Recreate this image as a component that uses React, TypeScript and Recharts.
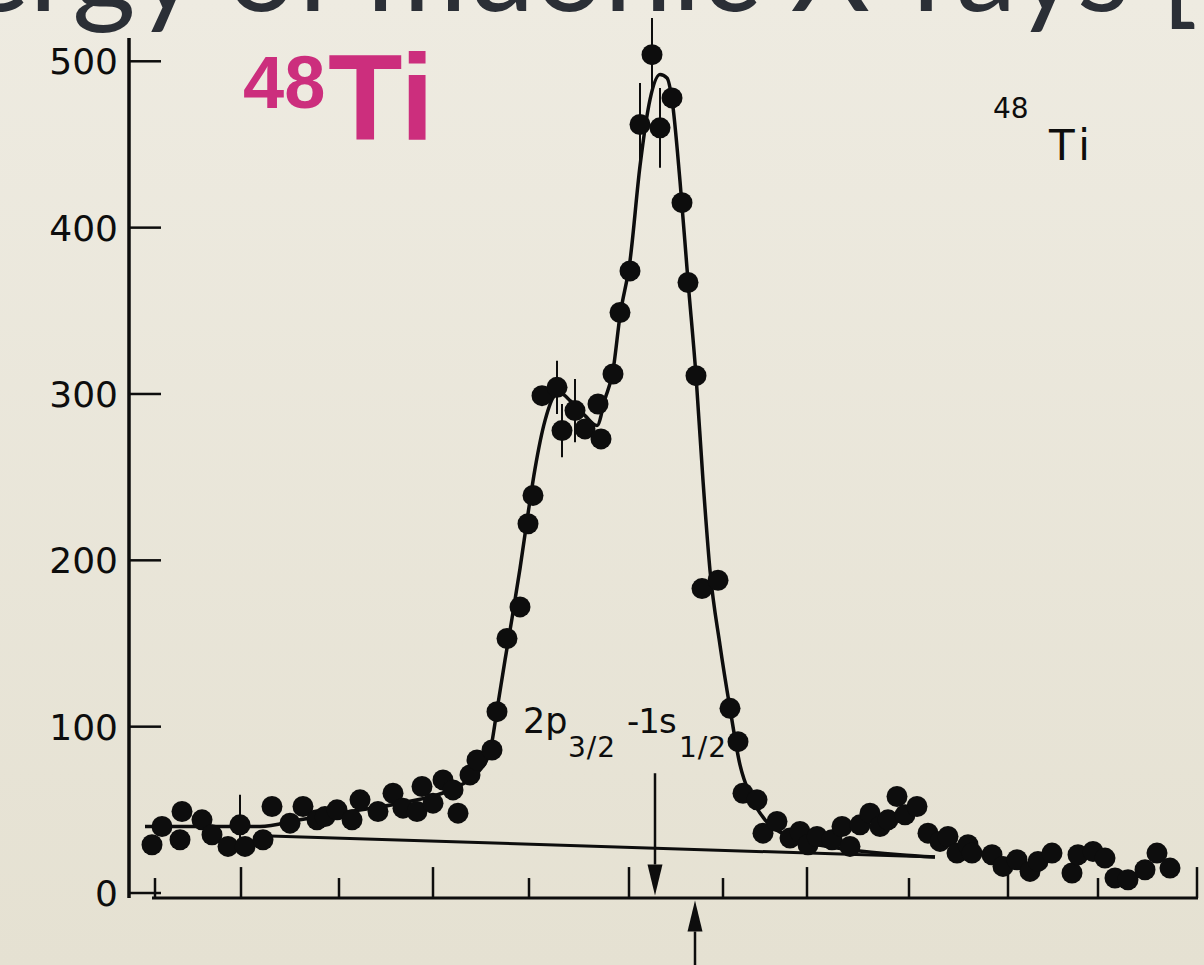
import React from "react";
import { ComposedChart, Line, Scatter, XAxis, YAxis, ErrorBar, ReferenceLine } from "recharts";

// measured spectrum (channel, counts)
const channels = [
  0, 1, 2.8, 3, 5, 6, 7.6, 8.8, 9.3, 11.1, 12, 13.8, 15.1, 16.5, 17.3, 18.5, 20, 20.8, 22.6, 24.1,
  25.1, 26.5, 27, 28.1, 29.1, 30.1, 30.6, 31.8, 32.5, 34, 34.5, 35.5, 36.8, 37.6, 38.1, 39, 40.5, 41,
  42.3, 43.3, 44.6, 44.9, 46.1, 46.8, 47.8, 48.8, 50, 50.8, 52, 53, 53.6, 54.4, 55, 56.6, 57.8, 58.6,
  59.1, 60.5, 61.1, 62.5, 63.8, 64.8, 65.6, 66.5, 68, 69, 69.8, 70.8, 71.8, 72.8, 73.6, 74.5, 75.3,
  76.5, 77.6, 78.8, 79.6, 80.5, 81.6, 82, 84, 85.1, 86.5, 87.8, 88.6, 90, 92, 92.6, 94.1, 95.3, 96.3,
  97.6, 99.3, 100.5, 101.8,
];
const counts = [
  29, 40, 32, 49, 44, 35, 28, 41, 28, 32, 52, 42, 52, 44, 46, 50, 44, 56, 49, 60,
  51, 49, 64, 54, 68, 62, 48, 71, 80, 86, 109, 153, 172, 222, 239, 299, 304, 278,
  290, 279, 294, 273, 312, 349, 374, 462, 504, 460, 478, 415, 367, 311, 183, 188, 111, 91,
  60, 56, 36, 43, 33, 37, 29, 34, 32, 40, 28, 41, 48, 40, 44, 58, 47,
  52, 36, 31, 34, 24, 29, 24, 23, 16, 20, 13, 19, 24, 12, 23, 25, 21, 9,
  8, 14, 24, 15,
];

// error bars on a few points (index into the spectrum, half-length in counts)
const errIndex = [7, 36, 37, 38, 45, 46, 47];
const errSize = [18, 16, 16, 19, 25, 22, 24];

// fitted curve
const fitCh = [
  -0.7, 4.8, 10.8, 14.8, 19.8, 24.8, 29.8, 32.8, 33.8, 34.5, 35.3, 36.0, 36.8, 37.6, 38.3, 39.3, 40.3,
  41.0, 41.8, 43.3, 44.5, 45.3, 46.1, 46.8, 47.8, 48.8, 49.8, 50.8, 51.5, 52.0, 52.8, 53.6, 54.4, 55.1,
  55.8, 56.8, 57.8, 58.8, 59.8, 61.3, 63.3, 65.8, 69.8, 74.8, 78.3,
];
const fitVal = [
  40, 40, 40, 44, 49, 54, 62, 74, 85, 110, 140, 165, 195, 228, 255, 284, 299,
  300, 296, 287, 281, 297, 314, 347, 380, 437, 477, 492, 490, 477, 428, 368, 311, 248,
  194, 149, 111, 77, 59, 44, 35, 30, 26, 23, 21.6,
];

// linear background
const bgCh = [11.8, 78.3];
const bgVal = [34.3, 21.6];

const yTicks = [0, 100, 200, 300, 400, 500];
const xTicks = [0.3, 8.9, 18.7, 28.1, 37.7, 47.7, 57.1, 65.5, 75.7, 85.6, 94.6, 104.5];

const points = channels.map((x, i) => {
  const k = errIndex.indexOf(i);
  return { x, y: counts[i], err: k >= 0 ? errSize[k] : 0 };
});
const fit = fitCh.map((x, i) => ({ x, y: fitVal[i] }));
const background = bgCh.map((x, i) => ({ x, y: bgVal[i] }));

const INK = "#0d0d0d";
const AXIS_Y = -3; // x axis sits a little under zero

const YTick = (props: any) => {
  const { x, y, payload } = props;
  return (
    <g>
      <line x1={x} y1={y} x2={x + 32} y2={y} stroke={INK} strokeWidth={2.5} />
      <text x={x - 11} y={y} dy={13} textAnchor="end" fontFamily="DejaVu Sans" fontSize={36} fill={INK}>
        {payload.value}
      </text>
    </g>
  );
};

const Dot = (props: any) => <circle cx={props.cx} cy={props.cy} r={10.5} fill={INK} />;

const arrow = (p: any) => {
  const { x1, y1, x2, y2 } = p;
  const dir = y2 > y1 ? 1 : -1;
  const head = 31;
  const half = 7.5;
  return (
    <g>
      <line x1={x1} y1={y1} x2={x2} y2={y2 - dir * head} stroke={INK} strokeWidth={2.5} />
      <polygon
        points={`${x2},${y2} ${x2 - half},${y2 - dir * head} ${x2 + half},${y2 - dir * head}`}
        fill={INK}
      />
    </g>
  );
};

export default function App() {
  return (
    <div
      style={{
        position: "absolute",
        left: 0,
        top: 0,
        width: 1204,
        height: 965,
        overflow: "hidden",
        background: "linear-gradient(#eeebe1, #e5e1d2)",
      }}
    >
      <ComposedChart width={1204} height={965} margin={{ top: 38, right: 4, left: 1, bottom: 67 }}>
        <XAxis type="number" dataKey="x" domain={[-2.3, 104.8]} allowDataOverflow hide />
        <YAxis
          type="number"
          dataKey="y"
          domain={[-3, 514]}
          allowDataOverflow
          ticks={yTicks}
          interval={0}
          width={128}
          tickSize={0}
          tickMargin={0}
          tickLine={false}
          axisLine={{ stroke: INK, strokeWidth: 3.5 }}
          tick={<YTick />}
        />
        <ReferenceLine
          segment={[{ x: 0, y: AXIS_Y }, { x: 104.6, y: AXIS_Y }]}
          stroke={INK}
          strokeWidth={3}
          ifOverflow="visible"
        />
        {xTicks.map((t, i) => (
          <ReferenceLine
            key={t}
            segment={[{ x: t, y: AXIS_Y }, { x: t, y: AXIS_Y + (i % 2 ? 18.6 : 12) }]}
            stroke={INK}
            strokeWidth={2.5}
            ifOverflow="visible"
          />
        ))}
        <Line
          data={background}
          dataKey="y"
          type="linear"
          stroke={INK}
          strokeWidth={3}
          dot={false}
          activeDot={false}
          isAnimationActive={false}
        />
        <Line
          data={fit}
          dataKey="y"
          type="monotone"
          stroke={INK}
          strokeWidth={3.5}
          dot={false}
          activeDot={false}
          isAnimationActive={false}
        />
        <Scatter data={points} dataKey="y" shape={<Dot />} isAnimationActive={false}>
          <ErrorBar dataKey="err" direction="y" width={0} stroke={INK} strokeWidth={2} />
        </Scatter>
        <ReferenceLine segment={[{ x: 50.3, y: 72 }, { x: 50.3, y: -1.5 }]} ifOverflow="visible" shape={arrow} />
        <ReferenceLine segment={[{ x: 54.3, y: -45 }, { x: 54.3, y: -4.5 }]} ifOverflow="visible" shape={arrow} />
      </ComposedChart>

      <svg width={1204} height={965} style={{ position: "absolute", left: 0, top: 0, pointerEvents: "none" }}>
        <text x={-172} y={11} fontFamily="Lato" fontSize={122} fill="#2b2f36">
          Energy of muonic X-rays [1]
        </text>
        <text fontFamily="Liberation Sans" fontWeight="bold" fill="#cc2e7d">
          <tspan x={243} y={108} fontSize={74}>48</tspan>
          <tspan x={328} y={140} fontSize={122}>Ti</tspan>
        </text>
        <text fontFamily="DejaVu Sans" fill={INK}>
          <tspan x={993} y={118} fontSize={28}>48</tspan>
          <tspan x={1049} y={160} fontSize={42} letterSpacing={5}>Ti</tspan>
        </text>
        <text fontFamily="DejaVu Sans" fill={INK}>
          <tspan x={523} y={733} fontSize={35}>2p</tspan>
          <tspan x={568} y={757} fontSize={28} letterSpacing={1}>3/2</tspan>
          <tspan x={627} y={733} fontSize={34} letterSpacing={-1}>-1s</tspan>
          <tspan x={679} y={757} fontSize={28} letterSpacing={1}>1/2</tspan>
        </text>
      </svg>
    </div>
  );
}
